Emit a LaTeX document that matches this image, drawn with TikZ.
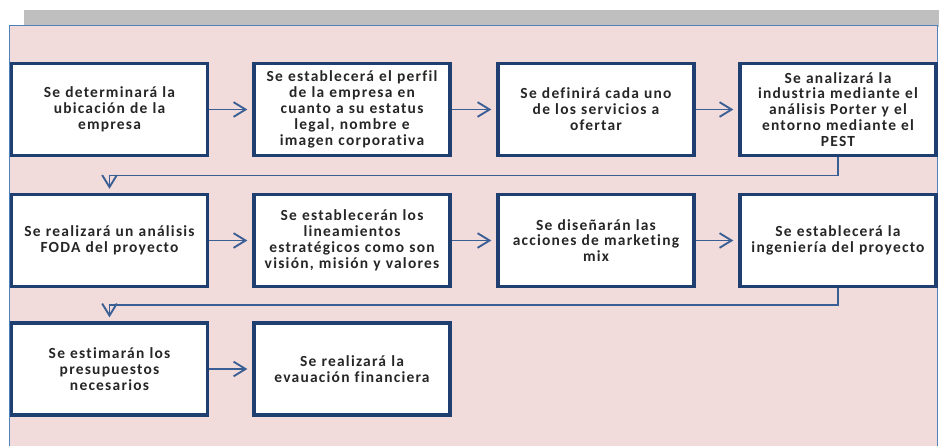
\documentclass[tikz,border=0pt]{standalone}
\usepackage{fontspec}
\setmainfont{Carlito}
\newfontfamily\boxfont[LetterSpace=8,Ligatures=NoCommon]{Carlito}
\usetikzlibrary{arrows.meta}
\definecolor{bgpink}{HTML}{F2DCDB}
\definecolor{bgline}{HTML}{4F81BD}
\definecolor{bargray}{HTML}{BFBFBF}
\definecolor{boxline}{HTML}{1F3F70}
\definecolor{flowline}{HTML}{3A5F94}
\begin{document}
\begin{tikzpicture}[
        stepbox/.style={
            rectangle,
            draw=boxline,
            fill=white,
            line width=2.8pt,
            align=center,
            text width=5.8cm,
            minimum width=5.88cm,
            minimum height=2.76cm,
            font=\boxfont\fontsize{13.2}{13.6}\selectfont\bfseries,
            text=black!85,
            inner sep=0pt
        },
        arrow/.style={
            -{Straight Barb[length=0.36cm,width=0.44cm,line width=1.6pt]},
            draw=flowline,
            line width=1.3pt
        }
    ]

        \useasboundingbox (0,0) rectangle (28.17,-13.35);
        \fill[bargray] (0.72,-0.30) rectangle (28.17,-0.80);
        \draw[bgline, fill=bgpink, line width=0.8pt] (0.27,-0.75) rectangle (28.11,-13.6);

        \node[stepbox] (ubic) at (3.285,-3.285) {Se determinará la\\ubicación de la\\empresa};
        \node[stepbox] (perfil) at (10.56,-3.285) {Se establecerá el perfil\\de la empresa en\\cuanto a su estatus\\legal, nombre e\\imagen corporativa};
        \node[stepbox] (serv) at (17.88,-3.285) {Se definirá cada uno\\de los servicios a\\ofertar};
        \node[stepbox] (porter) at (25.14,-3.285) {Se analizará la\\industria mediante el\\análisis Porter y el\\entorno mediante el\\PEST};
        \node[stepbox] (foda) at (3.285,-7.215) {Se realizará un análisis\\FODA del proyecto};
        \node[stepbox] (linea) at (10.56,-7.215) {Se establecerán los\\lineamientos\\estratégicos como son\\visión, misión y valores};
        \node[stepbox] (mkt) at (17.88,-7.215) {Se diseñarán las\\acciones de marketing\\mix};
        \node[stepbox] (ing) at (25.14,-7.215) {Se establecerá la\\ingeniería del proyecto};
        \node[stepbox] (presu) at (3.285,-11.07) {Se estimarán los\\presupuestos\\necesarios};
        \node[stepbox] (finan) at (10.56,-11.07) {Se realizará la\\evauación financiera};

        \draw[arrow, shorten >=0.15cm] (ubic.east) -- (perfil.west);
        \draw[arrow, shorten >=0.15cm] (perfil.east) -- (serv.west);
        \draw[arrow, shorten >=0.15cm] (serv.east) -- (porter.west);
        \draw[arrow, shorten >=0.12cm] (porter.south) -- ++(0,-0.55) -| (foda.north);
        \draw[arrow, shorten >=0.15cm] (foda.east) -- (linea.west);
        \draw[arrow, shorten >=0.15cm] (linea.east) -- (mkt.west);
        \draw[arrow, shorten >=0.15cm] (mkt.east) -- (ing.west);
        \draw[arrow, shorten >=0.12cm] (ing.south) -- ++(0,-0.5) -| (presu.north);
        \draw[arrow, shorten >=0.15cm] (presu.east) -- (finan.west);

    \end{tikzpicture}
\end{document}
